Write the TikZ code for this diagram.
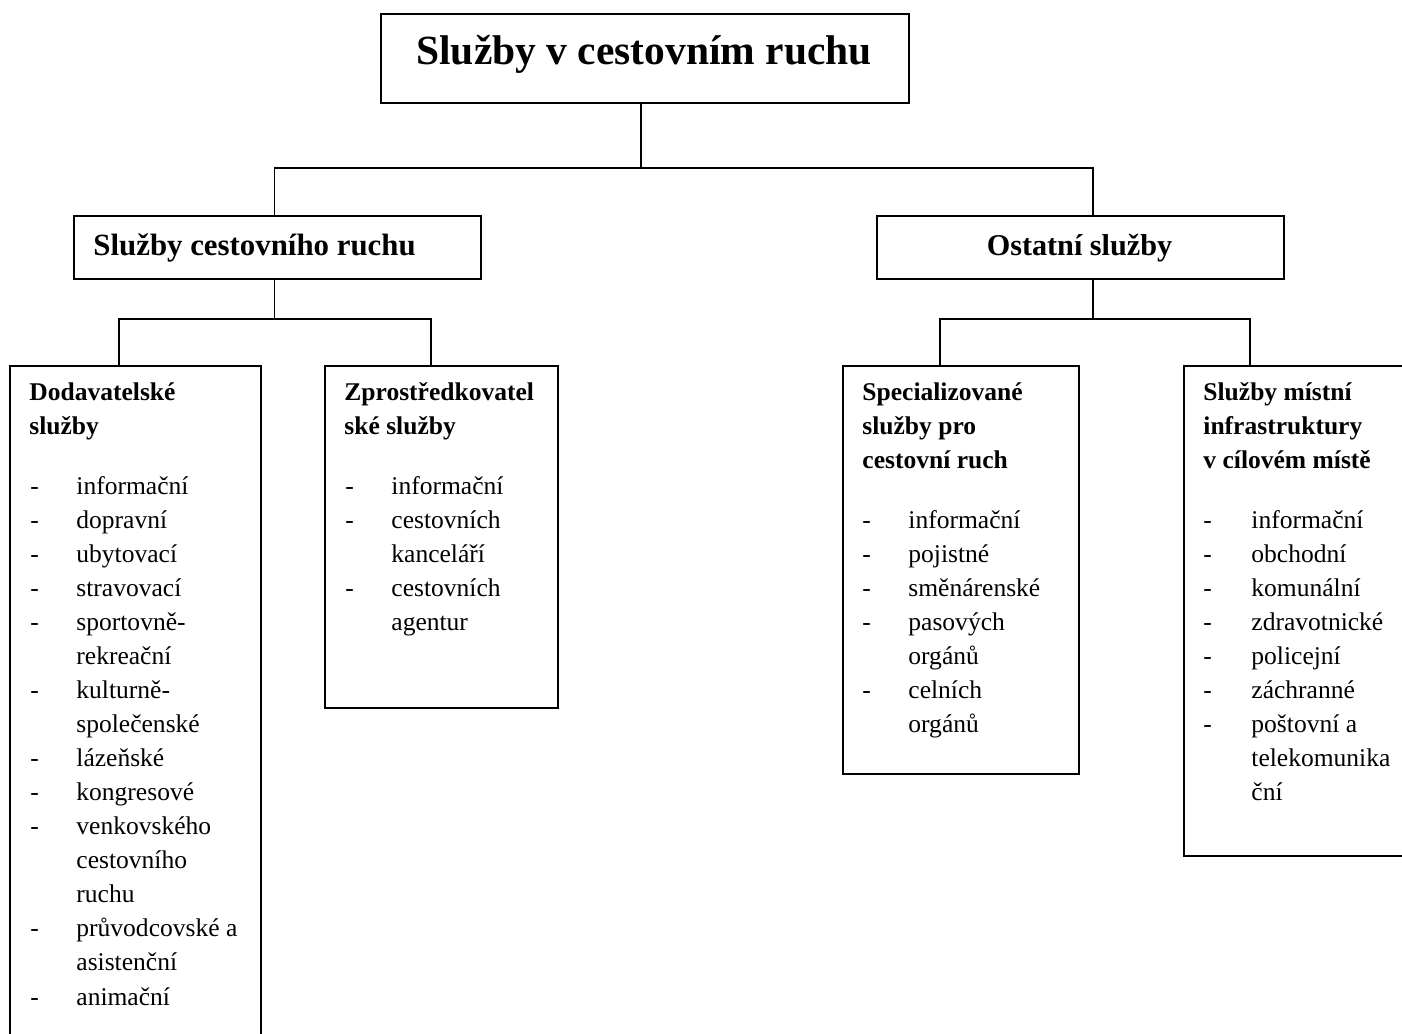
\documentclass[tikz,border=0pt]{standalone}
\usepackage{fontspec}
\setmainfont{Liberation Serif}
\usepackage{tikz}
\newdimen\px
\px=0.47pt
\tikzset{
  box/.style={draw,line width=0.9pt,anchor=north west,inner sep=0pt},
  link/.style={line width=0.9pt},
  head/.style={anchor=base west,inner sep=0pt,font=\fontsize{12}{14}\selectfont\bfseries},
  item/.style={anchor=base west,inner sep=0pt,font=\fontsize{12}{14}\selectfont}
}

\begin{document}
\begin{tikzpicture}[x=\px,y=-\px]
\useasboundingbox (0,0) rectangle (1402,1033);
\clip (0,0) rectangle (1402,1033);
% boxes
\node[box,minimum width=528*\px,minimum height=89*\px] (root) at (380,13) {};
\node[box,minimum width=407*\px,minimum height=63*\px] (cr) at (73,215) {};
\node[box,minimum width=407*\px,minimum height=63*\px] (os) at (876,215) {};
\node[box,minimum width=251*\px,minimum height=700*\px] (dod) at (9,365) {};
\node[box,minimum width=233*\px,minimum height=342*\px] (zpr) at (324,365) {};
\node[box,minimum width=236*\px,minimum height=408*\px] (spec) at (842,365) {};
\node[box,minimum width=240*\px,minimum height=490*\px] (mist) at (1183,365) {};
% connectors
\draw[link] ([xshift=-4*\px]root.south) -- ++(0,64) coordinate (j1);
\draw[link] ([xshift=-3*\px]cr.north) |- (j1) -| ([xshift=12.5*\px]os.north);
\draw[link] ([xshift=-3*\px]cr.south) -- ++(0,39) coordinate (j2);
\draw[link] ([xshift=-16.5*\px]dod.north) |- (j2) -| ([xshift=-10.5*\px]zpr.north);
\draw[link] ([xshift=12.5*\px]os.south) -- ++(0,39) coordinate (j3);
\draw[link] ([xshift=-21*\px]spec.north) |- (j3) -| ([xshift=67*\px]mist.north west);
% texts
\node[anchor=base,inner sep=0pt,font=\fontsize{19.5}{23}\selectfont\bfseries] (titul) at (644,64) {Služby v cestovním ruchu};
\node[anchor=base west,inner sep=0pt,font=\fontsize{14.5}{16}\selectfont\bfseries] (crt) at (93,255) {Služby cestovního ruchu};
\node[anchor=base,inner sep=0pt,font=\fontsize{14.2}{16}\selectfont\bfseries] (ost) at (1079.5,255) {Ostatní služby};
\foreach \k/\t in {0/Dodavatelské,1/služby}{\node[head] (dh\k) at (29,400+34*\k) {\t};}
\foreach \k/\t in {0/Zprostředkovatel,1/ské služby}{\node[head] (zh\k) at (344,400+34*\k) {\t};}
\foreach \k/\t in {0/Specializované,1/služby pro,2/cestovní ruch}{\node[head] (sh\k) at (862,400+34*\k) {\t};}
\foreach \k/\t in {0/Služby místní,1/infrastruktury,2/v cílovém místě}{\node[head] (mh\k) at (1203,400+34*\k) {\t};}
\foreach \k/\d/\t in {0/-/informační,1/-/dopravní,2/-/ubytovací,3/-/stravovací,4/-/sportovně-,5//rekreační,6/-/kulturně-,7//společenské,8/-/lázeňské,9/-/kongresové,10/-/venkovského,11//cestovního,12//ruchu,13/-/průvodcovské a,14//asistenční,15/-/animační}{
  \node[item] (dd\k) at (30,494+34.07*\k) {\d};
  \node[item] (di\k) at (76,494+34.07*\k) {\t};}
\foreach \k/\d/\t in {0/-/informační,1/-/cestovních,2//kanceláří,3/-/cestovních,4//agentur}{
  \node[item] (zd\k) at (345,494+34.07*\k) {\d};
  \node[item] (zi\k) at (391,494+34.07*\k) {\t};}
\foreach \k/\d/\t in {0/-/informační,1/-/pojistné,2/-/směnárenské,3/-/pasových,4//orgánů,5/-/celních,6//orgánů}{
  \node[item] (sd\k) at (862,528+34.07*\k) {\d};
  \node[item] (si\k) at (908,528+34.07*\k) {\t};}
\foreach \k/\d/\t in {0/-/informační,1/-/obchodní,2/-/komunální,3/-/zdravotnické,4/-/policejní,5/-/záchranné,6/-/poštovní a,7//telekomunika,8//ční}{
  \node[item] (md\k) at (1203,528+34.07*\k) {\d};
  \node[item] (mi\k) at (1251,528+34.07*\k) {\t};}
\end{tikzpicture}
\end{document}
